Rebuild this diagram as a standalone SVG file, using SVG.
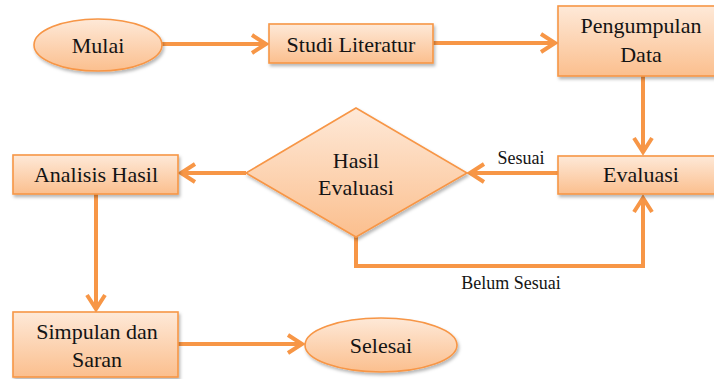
<svg xmlns="http://www.w3.org/2000/svg" width="714" height="379" viewBox="0 0 714 379">
  <defs>
    <linearGradient id="g" x1="0" y1="0" x2="0" y2="1">
      <stop offset="0" stop-color="#fee9d8"/>
      <stop offset="1" stop-color="#fbbf8e"/>
    </linearGradient>
    <filter id="sh" x="-10%" y="-10%" width="130%" height="140%">
      <feDropShadow dx="1.5" dy="2.5" stdDeviation="1.5" flood-color="#000" flood-opacity="0.28"/>
    </filter>
    <marker id="arr" markerUnits="userSpaceOnUse" markerWidth="24" markerHeight="24" viewBox="0 0 24 24" refX="18" refY="12" orient="auto">
      <path d="M4,3 L18,12 L4,21" fill="none" stroke="#f79646" stroke-width="4" stroke-linejoin="miter" stroke-linecap="butt"/>
    </marker>
    <style>
      .n { fill: url(#g); stroke: #f79646; stroke-width: 1.6; filter: url(#sh); }
      .t { font-size: 22px; fill: #141414; text-anchor: middle; }
      .l { font-size: 18px; fill: #141414; text-anchor: middle; }
      .c { fill: none; stroke: #f79646; stroke-width: 4; }
    </style>
  </defs>

  <g id="connectors" font-family="Liberation Serif, serif">
    <path class="c" d="M162,44 L266,44" marker-end="url(#arr)"/>
    <path class="c" d="M433,43 L555,43" marker-end="url(#arr)"/>
    <path class="c" d="M643,76 L643,152" marker-end="url(#arr)"/>
    <path class="c" d="M558,173 L470,173" marker-end="url(#arr)"/>
    <path class="c" d="M246,173 L181,173" marker-end="url(#arr)"/>
    <path class="c" d="M356,237 L356,266 L643,266 L643,198" marker-end="url(#arr)"/>
    <path class="c" d="M96,194 L96,309" marker-end="url(#arr)"/>
    <path class="c" d="M178,344 L302,344" marker-end="url(#arr)"/>
    <text class="l" x="521" y="164">Sesuai</text>
    <text class="l" x="511" y="289">Belum Sesuai</text>
  </g>

  <g id="nodes" font-family="Liberation Serif, serif">
  <g id="mulai">
    <ellipse class="n" cx="98" cy="45" rx="64" ry="26"/>
    <text class="t" x="98" y="53">Mulai</text>
  </g>
  <g id="studi-literatur">
    <rect class="n" x="269" y="24" width="164" height="39"/>
    <text class="t" x="351" y="52">Studi Literatur</text>
  </g>
  <g id="pengumpulan-data">
    <rect class="n" x="558" y="6" width="160" height="70"/>
    <text class="t" x="641" y="33">Pengumpulan</text>
    <text class="t" x="641" y="62">Data</text>
  </g>
  <g id="evaluasi">
    <rect class="n" x="558" y="156" width="160" height="38"/>
    <text class="t" x="641" y="182">Evaluasi</text>
  </g>
  <g id="hasil-evaluasi">
    <polygon class="n" points="356,108 467,173 356,237 246,173"/>
    <text class="t" x="356" y="168">Hasil</text>
    <text class="t" x="356" y="195">Evaluasi</text>
  </g>
  <g id="analisis-hasil">
    <rect class="n" x="13" y="155" width="165" height="39"/>
    <text class="t" x="96" y="182">Analisis Hasil</text>
  </g>
  <g id="simpulan-saran">
    <rect class="n" x="13" y="312" width="165" height="65"/>
    <text class="t" x="97" y="339">Simpulan dan</text>
    <text class="t" x="97" y="367">Saran</text>
  </g>
  <g id="selesai">
    <ellipse class="n" cx="381" cy="345" rx="76" ry="27"/>
    <text class="t" x="381" y="353">Selesai</text>
  </g>
  </g>
</svg>
